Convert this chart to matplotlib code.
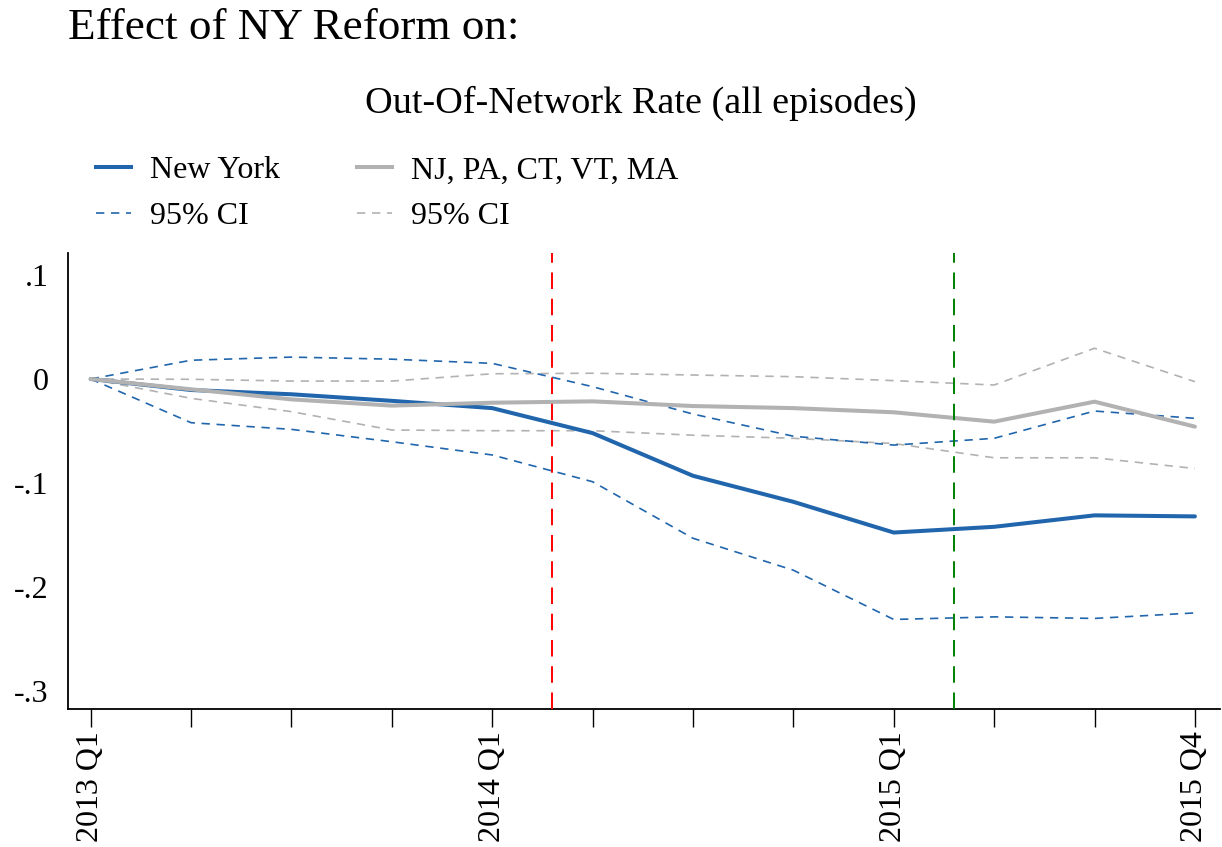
import matplotlib
matplotlib.use("Agg")
import matplotlib.pyplot as plt
from matplotlib.lines import Line2D

plt.rcParams['font.family'] = ['Liberation Serif', 'DejaVu Serif']

quarters = ["2013 Q1", "2013 Q2", "2013 Q3", "2013 Q4",
            "2014 Q1", "2014 Q2", "2014 Q3", "2014 Q4",
            "2015 Q1", "2015 Q2", "2015 Q3", "2015 Q4"]
labeled_quarters = ["2013 Q1", "2014 Q1", "2015 Q1", "2015 Q4"]

ny = [0, -0.0106, -0.0147, -0.021, -0.028, -0.052, -0.093, -0.118, -0.1475, -0.142, -0.131, -0.132]
ny_upper = [0, 0.018, 0.021, 0.019, 0.015, -0.0074, -0.0337, -0.055, -0.0635, -0.057, -0.0308, -0.0378]
ny_lower = [0, -0.042, -0.0484, -0.0603, -0.073, -0.0987, -0.153, -0.1837, -0.231, -0.2285, -0.230, -0.2247]

comp = [0, -0.0099, -0.0196, -0.0256, -0.0228, -0.0215, -0.026, -0.028, -0.032, -0.041, -0.0218, -0.0458]
comp_upper = [0, -0.0003, -0.002, -0.002, 0.005, 0.0055, 0.0038, 0.0022, -0.0016, -0.0058, 0.0295, -0.0026]
comp_lower = [0, -0.0186, -0.0314, -0.049, -0.0497, -0.0497, -0.054, -0.057, -0.062, -0.0757, -0.0757, -0.086]

red_line_x = 4.6
green_line_x = 8.6

yticks = [0.1, 0, -0.1, -0.2, -0.3]
ytick_labels = [".1", "0", "-.1", "-.2", "-.3"]

BLUE = "#2166ac"
GRAY = "#b2b2b2"

W, H = 1222, 847
fig = plt.figure(figsize=(W / 100, H / 100), dpi=100)
ax = fig.add_axes([68 / W, 1 - 709 / H, (1220 - 68) / W, (709 - 253) / H])

x = list(range(len(quarters)))
ci_dash = (5, 4)

ax.plot(x, comp_upper, color=GRAY, lw=1.2, dashes=ci_dash, zorder=2)
ax.plot(x, comp_lower, color=GRAY, lw=1.2, dashes=ci_dash, zorder=2)
ax.plot(x, ny_upper, color=BLUE, lw=1.2, dashes=ci_dash, zorder=3)
ax.plot(x, ny_lower, color=BLUE, lw=1.2, dashes=ci_dash, zorder=3)
ax.plot(x, ny, color=BLUE, lw=2.9, solid_joinstyle='round', solid_capstyle='round', zorder=4)
ax.plot(x, comp, color=GRAY, lw=2.9, solid_joinstyle='round', solid_capstyle='round', zorder=5)

ax.axvline(red_line_x, color="#ff0000", lw=1.4, dashes=(8.5, 5), zorder=6)
ax.axvline(green_line_x, color="#008000", lw=1.4, dashes=(8.5, 5), zorder=6)

ax.set_xlim(-0.226, 11.25)
ax.set_ylim(-0.317, 0.121)

ax.set_xticks(x)
ax.set_xticklabels([q if q in labeled_quarters else "" for q in quarters],
                   rotation=90, fontsize=23)
ax.set_yticks(yticks)
ax.set_yticklabels(ytick_labels, fontsize=23)

ax.tick_params(axis='x', direction='out', length=13, width=1.0, pad=3)
ax.tick_params(axis='y', length=0, pad=14)

for s in ['top', 'right']:
    ax.spines[s].set_visible(False)
for s in ['left', 'bottom']:
    ax.spines[s].set_linewidth(1.3)

fig.text(68 / W, 1 - 39 / H, "Effect of NY Reform on:", fontsize=32.5,
         ha='left', va='baseline')
fig.text(641 / W, 1 - 113 / H, "Out-Of-Network Rate (all episodes)", fontsize=27.5,
         ha='center', va='baseline')

handles = [
    Line2D([], [], color=BLUE, lw=2.9),
    Line2D([], [], color=BLUE, lw=1.2, dashes=ci_dash),
    Line2D([], [], color=GRAY, lw=2.9),
    Line2D([], [], color=GRAY, lw=1.2, dashes=ci_dash),
]
labels = ["New York", "95% CI", "NJ, PA, CT, VT, MA", "95% CI"]
fig.legend(handles, labels, ncol=2, loc='upper left',
           bbox_to_anchor=(96 / W, 1 - 156 / H), frameon=False,
           fontsize=23, handlelength=1.1, handletextpad=0.6,
           columnspacing=2.4, labelspacing=0.5, borderpad=0, borderaxespad=0)

fig.savefig("out.png", dpi=100)
